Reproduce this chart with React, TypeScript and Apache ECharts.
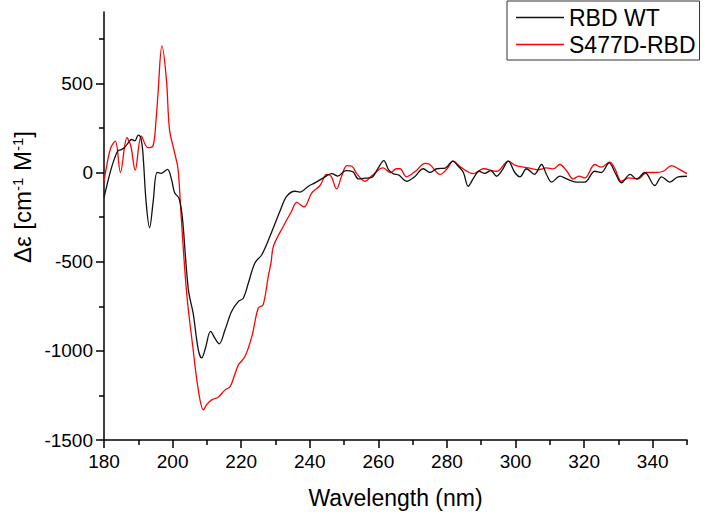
import React, { useEffect, useRef } from "react";
import * as echarts from "echarts";

const seriesNames = ["RBD WT", "S477D-RBD"];

const wtX = [180, 181, 182, 183, 184, 185, 186, 187, 188, 189, 190, 190.7, 191.3, 192.3, 193.3, 194.3, 195.5, 196.7, 198.5, 199.7, 200.6, 201.8, 202.5, 203, 204.6, 206, 207.5, 208.5, 209.5, 211.1, 212.5, 213.6, 215.3, 217.2, 219.2, 220.6, 222.1, 224, 226, 228.4, 230, 231.3, 233.3, 235.7, 237.1, 239.6, 241.5, 244, 246.4, 248.2, 250.5, 252.5, 254.2, 256, 258, 259.8, 261.6, 263, 264.3, 266, 268.2, 270.5, 273.1, 275, 277, 279.5, 281.7, 283.3, 284.8, 286.2, 287.8, 289.4, 291, 292.8, 294.5, 296, 297.9, 299.8, 301.3, 303.2, 305.5, 307.6, 309, 310.5, 313, 314.9, 317.8, 320.2, 323.1, 325, 327.3, 329, 330.9, 333.4, 335.3, 337.7, 340.6, 342.6, 345, 347.4, 350];
const wtY = [-140, -60, 15, 75, 120, 128, 140, 165, 185, 178, 210, 195, 120, -170, -310, -170, 0, -5, 17, -40, -114, -142, -200, -280, -657, -790, -994, -1040, -990, -891, -935, -961, -882, -779, -723, -705, -620, -507, -461, -358, -280, -217, -133, -105, -110, -77, -58, -30, -6, -20, 10, 5, -36, -32, -28, 20, 67, 15, -6, -15, -49, -25, 21, 0, 21, 25, 64, 35, 0, -77, -30, 7, -5, 11, -21, 10, 64, 0, -24, 21, -10, 45, -10, -54, -20, -36, -54, -54, 7, 0, 54, 0, -58, -11, -36, 0, -73, -24, -54, -24, -21];

const mutX = [180, 181, 182, 183.3, 184.8, 186.7, 187.8, 189.1, 190.9, 192.8, 194.3, 195.2, 195.7, 196.9, 198.2, 199.1, 200.6, 201.6, 202.5, 204.1, 206, 207.5, 209, 210, 211.4, 213.3, 215.3, 216.8, 218, 219.2, 221.1, 223.1, 225, 226.4, 227.9, 228.7, 229.4, 232.3, 234.7, 236.2, 238.3, 240.6, 243, 244.9, 246.2, 247.8, 249.3, 250.8, 252.3, 253.7, 256.1, 258, 260.5, 261.4, 263.5, 265.3, 266.3, 268.2, 271, 273.6, 275, 278, 280, 281.8, 284, 287.7, 290.6, 294.5, 297.9, 300, 303.7, 306.5, 309.1, 311, 312.9, 314.9, 316.8, 318.5, 320.2, 323.1, 325, 327.5, 329, 330.9, 333, 335.8, 338.2, 340.5, 343.1, 345.5, 347.5, 350];
const mutY = [-50, 60, 140, 176, 0, 195, 150, 13, 204, 139, 150, 300, 429, 710, 522, 242, 110, 17, -245, -676, -994, -1219, -1331, -1300, -1275, -1260, -1219, -1200, -1140, -1079, -1032, -920, -760, -742, -582, -507, -414, -301, -217, -167, -193, -114, -73, -11, -20, -92, -20, 39, 35, -6, -49, -20, 21, 26, 0, 21, 21, -24, 10, 51, 45, -11, 20, 64, 30, -6, 21, 7, 64, 40, 26, 15, 26, 20, 45, 10, -36, -20, -30, 45, 30, 58, 20, -49, -30, -36, 0, 0, 7, 39, 20, -6];

const xMajorTicks = [180, 200, 220, 240, 260, 280, 300, 320, 340];
const xMinorTicks = [190, 210, 230, 250, 270, 290, 310, 330, 350];
const yMajorTicks = [-1500, -1000, -500, 0, 500];
const yMinorTicks = [-1250, -750, -250, 250, 750];

const FONT = "'Liberation Sans', Arial, sans-serif";

export default function App() {
  const ref = useRef<HTMLDivElement>(null);
  useEffect(() => {
    if (!ref.current) return;
    const chart = echarts.init(ref.current, undefined, { renderer: "svg" });
    const wtData = wtX.map((x, i) => [x, wtY[i]]);
    const mutData = mutX.map((x, i) => [x, mutY[i]]);
    const tickStyle = { color: "#000", width: 1.5 };
    chart.setOption({
      animation: false,
      backgroundColor: "#fff",
      textStyle: { fontFamily: FONT },
      grid: { left: 104, right: 22, top: 12, bottom: 76, containLabel: false },
      legend: {
        orient: "vertical",
        left: 507,
        top: 1,
        padding: [5, 4, 4, 9],
        itemGap: 4,
        itemWidth: 48,
        itemHeight: 1.5,
        icon: "rect",
        borderColor: "#333",
        borderWidth: 1,
        textStyle: { fontSize: 23, color: "#000", fontFamily: FONT },
        data: seriesNames,
      },
      xAxis: [
        {
          type: "value",
          min: 180,
          max: 350,
          interval: 20,
          name: "Wavelength (nm)",
          nameLocation: "middle",
          nameGap: 46,
          nameTextStyle: { fontSize: 23, color: "#000", fontFamily: FONT },
          axisLine: { show: true, onZero: false, lineStyle: tickStyle },
          axisTick: { show: true, inside: false, length: 8, customValues: xMajorTicks, lineStyle: tickStyle },
          axisLabel: { customValues: xMajorTicks, fontSize: 19, color: "#000", margin: 12, fontFamily: FONT, formatter: (v: number) => String(v) },
          splitLine: { show: false },
        },
        {
          type: "value",
          min: 180,
          max: 350,
          interval: 10,
          position: "bottom",
          axisLine: { show: false, onZero: false },
          axisTick: { show: true, length: 5, customValues: xMinorTicks, lineStyle: tickStyle },
          axisLabel: { show: false },
          splitLine: { show: false },
        },
      ],
      yAxis: [
        {
          type: "value",
          min: -1500,
          max: 900,
          interval: 500,
          axisLine: { show: true, onZero: false, lineStyle: tickStyle },
          axisTick: { show: true, length: 8, customValues: yMajorTicks, lineStyle: tickStyle },
          axisLabel: { customValues: yMajorTicks, fontSize: 19, color: "#000", margin: 11, fontFamily: FONT, formatter: (v: number) => String(v) },
          splitLine: { show: false },
        },
        {
          type: "value",
          min: -1500,
          max: 900,
          interval: 250,
          position: "left",
          axisLine: { show: false, onZero: false },
          axisTick: { show: true, length: 5, customValues: yMinorTicks, lineStyle: tickStyle },
          axisLabel: { show: false },
          splitLine: { show: false },
        },
      ],
      graphic: [
        {
          type: "text",
          x: 22,
          y: 197,
          rotation: Math.PI / 2,
          style: {
            text: "Δε [cm{sup|-1} M{sup|-1}]",
            font: `24px ${FONT}`,
            fill: "#000",
            align: "center",
            verticalAlign: "middle",
            rich: {
              sup: { fontSize: 15, verticalAlign: "top", padding: [0, 0, 10, 0], fill: "#000", fontFamily: FONT },
            },
          },
        },
      ],
      series: [
        {
          name: seriesNames[0],
          type: "line",
          data: wtData,
          xAxisIndex: 0,
          yAxisIndex: 0,
          symbol: "none",
          smooth: 0.35,
          lineStyle: { color: "#111", width: 1.3 },
          itemStyle: { color: "#111" },
          z: 3,
        },
        {
          name: seriesNames[1],
          type: "line",
          data: mutData,
          xAxisIndex: 0,
          yAxisIndex: 0,
          symbol: "none",
          smooth: 0.35,
          lineStyle: { color: "#ff0000", width: 1.3 },
          itemStyle: { color: "#ff0000" },
          z: 2,
        },
      ],
    });
    return () => chart.dispose();
  }, []);
  return <div ref={ref} style={{ width: 709, height: 516, position: "fixed", left: 0, top: 0 }} />;
}
